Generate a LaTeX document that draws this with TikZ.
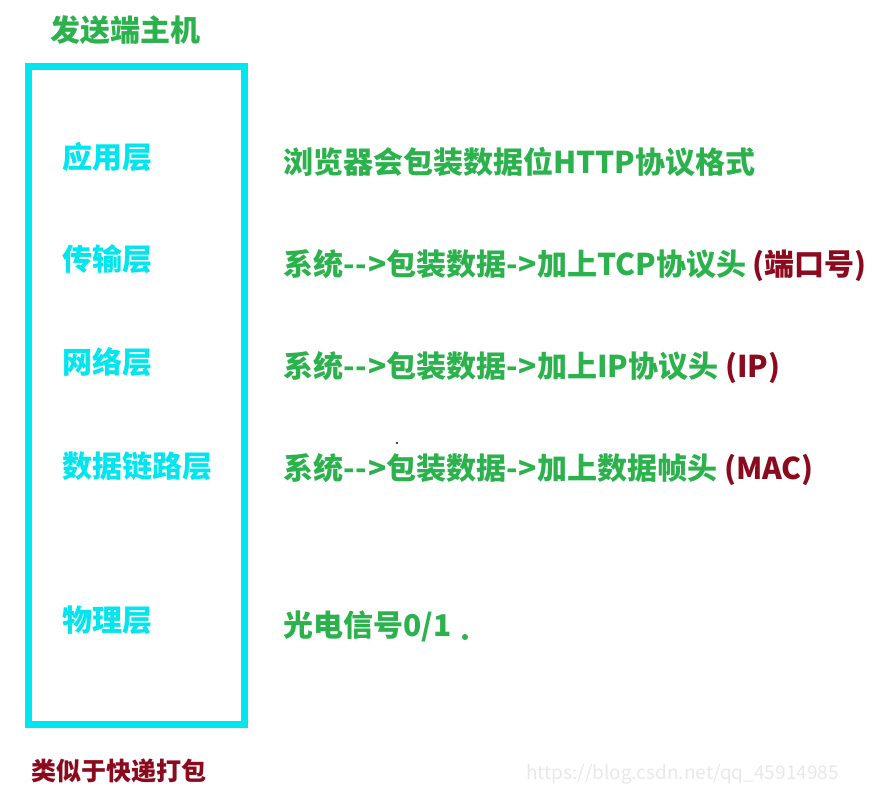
\documentclass[tikz,border=0pt]{standalone}
\usepackage{fontspec}
\setmainfont{Noto Sans CJK SC}
\definecolor{tgreen}{HTML}{2BB24C}
\definecolor{tcyan}{HTML}{00E5EE}
\definecolor{tred}{HTML}{8B0A1E}
\definecolor{wm}{HTML}{E8E8E8}
\tikzset{
  lay/.style={anchor=west, inner sep=0pt, text=tcyan, font=\fontsize{30}{32}\selectfont\bfseries},
  desc/.style={anchor=west, inner sep=0pt, text=tgreen, font=\fontsize{30}{32}\selectfont\bfseries},
  ttl/.style={anchor=west, inner sep=0pt, text=tgreen, font=\fontsize{30}{32}\selectfont\bfseries},
  note/.style={anchor=west, inner sep=0pt, text=tred, font=\fontsize{25}{27}\selectfont\bfseries},
  frame/.style={draw=tcyan, line width=7pt, inner sep=0pt}
}
\begin{document}
\begin{tikzpicture}[x=1pt,y=-1pt]
\useasboundingbox (0,0) rectangle (877,786);
\node[frame, minimum width=216pt, minimum height=657pt] (frame) at (136.5,395.5) {};
\node[ttl] (title) at (50,30) {发送端主机};
\node[lay] (app) at (62,157) {应用层};
\node[lay] (trans) at (62,259) {传输层};
\node[lay] (net) at (62,362) {网络层};
\node[lay] (link) at (62,466) {数据链路层};
\node[lay] (phy) at (62,620) {物理层};
\node[desc] (dapp) at (283,162) {浏览器会包装数据位HTTP协议格式};
\node[desc] (dtrans) at (283,266) {系统-\kern1pt-\kern1pt>包装数据-\kern1pt>加上TCP协议头 \textcolor{tred}{(端口号)}};
\node[desc] (dnet) at (283,368) {系统-\kern1pt-\kern1pt>包装数据-\kern1pt>加上IP协议头 \textcolor{tred}{(IP)}};
\node[desc] (dlink) at (283,470) {系统-\kern1pt-\kern1pt>包装数据-\kern1pt>加上数据帧头 \textcolor{tred}{(MAC)}};
\node[desc] (dphy) at (283,626) {光电信号0/1};
\fill[tgreen] (465,637) circle (3pt);
\fill[black] (397,443) circle (1.2pt);
\node[note] (bottom) at (31,771) {类似于快递打包};
\node[anchor=west, inner sep=0pt, text=wm, font=\fontsize{19}{21}\selectfont] (wmark) at (526,774) {https://blog.csdn.net/qq\_45914985};
\end{tikzpicture}
\end{document}
